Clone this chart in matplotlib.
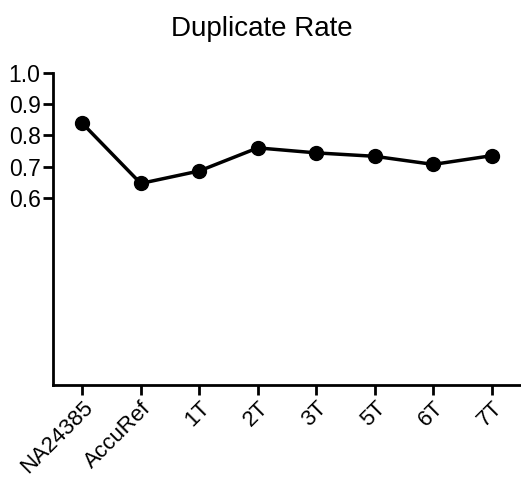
import numpy as np
import matplotlib.pyplot as plt

plt.rcParams['font.family'] = ['Liberation Sans', 'DejaVu Sans']

# sample names and duplicate rates
samples = ['NA24385', 'AccuRef', '1T', '2T', '3T', '5T', '6T', '7T']
dup_rate = [0.839, 0.646, 0.686, 0.760, 0.744, 0.733, 0.707, 0.735]
y_ticks = [0.6, 0.7, 0.8, 0.9, 1.0]

fig = plt.figure(figsize=(5.21, 4.83), dpi=100)
ax = fig.add_axes([53 / 521, 1 - 385 / 483, 1 - 53 / 521, (385 - 73) / 483])

x = np.arange(len(samples))
ax.plot(x, dup_rate, color='black', linewidth=2.5, marker='o', markersize=10)

ax.set_xlim(-0.5, len(samples) - 0.5)
ax.set_ylim(0.0, 1.0)
ax.set_yticks(y_ticks)
ax.set_yticklabels(['%.1f' % v for v in y_ticks], fontsize=16.5)
ax.set_xticks(x)
ax.set_xticklabels(samples, rotation=45, ha='right', rotation_mode='anchor', fontsize=16)

for side in ['top', 'right']:
    ax.spines[side].set_visible(False)
for side in ['left', 'bottom']:
    ax.spines[side].set_linewidth(2)
ax.tick_params(width=2, length=7, pad=2)

fig.text(0.503, 1 - 29 / 483, 'Duplicate Rate', fontsize=20, ha='center', va='center')

fig.savefig('out.png', dpi=100)
